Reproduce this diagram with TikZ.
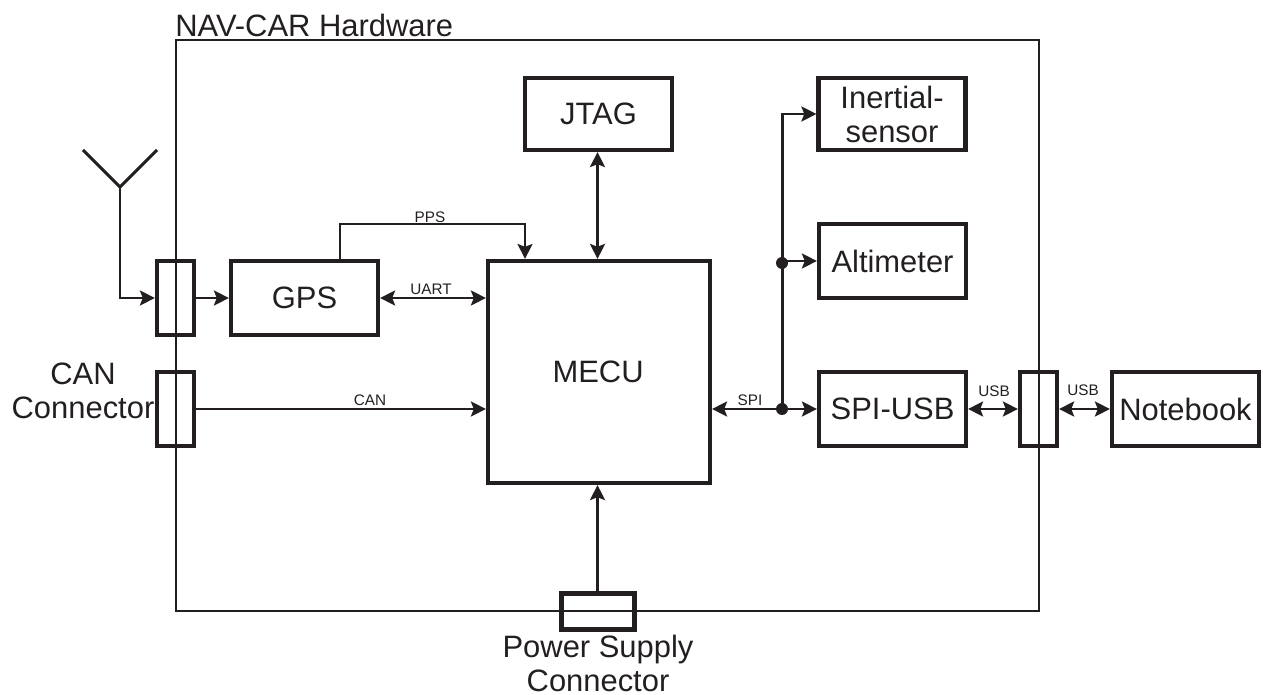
\documentclass[tikz,border=0pt]{standalone}
\usepackage{fontspec}
\setmainfont{Liberation Sans}
\usetikzlibrary{arrows.meta}
\definecolor{inkblack}{HTML}{231F20}
\tikzset{
  bigtext/.style={font=\fontsize{17.6}{19.4}\selectfont, text=inkblack, align=center, inner sep=0pt},
  smalltext/.style={font=\fontsize{8.7}{10}\selectfont, text=inkblack, inner sep=0pt},
  unitbox/.style={draw=inkblack, line width=2.4pt, minimum width=2.94cm, minimum height=1.48cm, inner sep=0pt, bigtext},
  connbox/.style={draw=inkblack, line width=2.4pt, minimum width=0.74cm, minimum height=1.48cm, inner sep=0pt},
  dotnode/.style={circle, fill=inkblack, minimum size=0.24cm, inner sep=0pt},
  headtip/.tip={Stealth[length=8.5pt,width=8.5pt,inset=1.6pt]},
  link/.style={draw=inkblack, line width=1.7pt, -headtip},
  duplex/.style={draw=inkblack, line width=1.7pt, headtip-headtip},
  plainlink/.style={draw=inkblack, line width=1.7pt}
}
\begin{document}
\begin{tikzpicture}[x=0.02cm, y=-0.02cm]

\useasboundingbox (0, 0) rectangle (1263, 695);

\node[draw=inkblack, line width=1.4pt, minimum width=17.26cm, minimum height=11.42cm, inner sep=0pt] (hardware) at (607.5, 325.5) {};
\node[bigtext, anchor=west] (hardwarelabel) at (175, 25) {NAV-CAR Hardware};

\node[connbox] (connant) at (175.5, 298) {};
\node[connbox] (conncan) at (175.5, 409) {};
\node[connbox] (connusb) at (1038.5, 409) {};
\node[connbox, minimum width=1.46cm, minimum height=0.72cm] (connpower) at (598, 611.5) {};

\node[unitbox] (gps) at (304.5, 298) {GPS};
\node[unitbox, minimum width=4.44cm, minimum height=4.44cm] (mecu) at (599, 372) {\hspace*{-1pt}MECU};
\node[unitbox, minimum height=1.44cm] (jtag) at (598.5, 114) {JTAG};
\node[unitbox, minimum height=1.44cm] (inertial) at (892, 114) {Inertial-\\sensor};
\node[unitbox] (altimeter) at (892.5, 261) {Altimeter};
\node[unitbox] (spiusb) at (892.5, 409) {SPI-USB};
\node[unitbox] (notebook) at (1185.5, 409) {Notebook};

\node[bigtext] (canlabel) at (83, 391) {CAN\\Connector};
\node[bigtext] (powerlabel) at (598, 663.5) {Power Supply\\Connector};

\coordinate (antleft) at (83, 150);
\coordinate (antright) at (157, 150);
\coordinate (antfoot) at (120, 187);
\coordinate (antbend) at (120, 298);
\draw[plainlink] (antleft) -- (antfoot) -- (antright);
\draw[link] (antfoot) -- (antbend) -- (connant.west);
\draw[link] (connant.east) -- (gps.west);

\coordinate (ppsleft) at (340, 224);
\coordinate (ppsright) at (525, 224);
\draw[draw=inkblack, line width=1.2pt, -headtip] (ppsleft |- gps.north) -- (ppsleft) -- (ppsright) -- (ppsright |- mecu.north);
\node[smalltext] (ppslabel) at (430, 217) {PPS};

\draw[duplex] (gps.east) -- (gps.east -| mecu.west);
\node[smalltext] (uartlabel) at (431, 289) {UART};

\draw[link] (conncan.east) -- (conncan.east -| mecu.west);
\node[smalltext] (canlinelabel) at (370, 400) {CAN};

\coordinate (jtagline) at (597.5, 200);
\draw[duplex] (jtagline |- jtag.south) -- (jtagline |- mecu.north);
\draw[link] (jtagline |- connpower.north) -- (jtagline |- mecu.south);

\node[dotnode] (dotspi) at (782, 409) {};
\node[dotnode] (dotalt) at (782, 263) {};
\coordinate (inertialbend) at (782, 114);
\draw[link] (dotspi.center) -- (inertialbend) -- (inertial.west);
\draw[link] (dotalt.center |- altimeter.west) -- (altimeter.west);
\draw[link] (dotspi.center) -- (spiusb.west);
\draw[link] (dotspi.center) -- (dotspi.center -| mecu.east);
\node[smalltext] (spilabel) at (750, 400) {SPI};

\draw[duplex] (spiusb.east) -- (connusb.west);
\node[smalltext] (usblabela) at (994, 391) {USB};
\draw[duplex] (connusb.east) -- (notebook.west);
\node[smalltext] (usblabelb) at (1083, 390) {USB};

\end{tikzpicture}
\end{document}
